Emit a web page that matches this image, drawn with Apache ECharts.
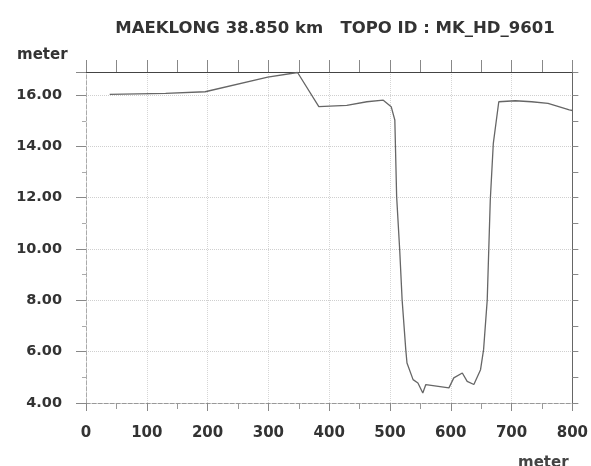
<!DOCTYPE html>
<html>
<head>
<meta charset="utf-8">
<script src="https://cdn.jsdelivr.net/npm/echarts@6/dist/echarts.min.js"></script>
<style>
html,body{margin:0;padding:0;background:#fff;}
#chart{width:591px;height:466px;}
</style>
</head>
<body>
<div id="chart"></div>
<script>
var titleText = 'MAEKLONG 38.850 km   TOPO ID : MK_HD_9601';
var distance = [39, 131, 196, 299, 348, 383, 429, 462, 489, 502, 508, 511, 516, 520, 526, 528, 538, 546, 554, 559, 597, 605, 619, 627, 638, 649, 654, 660, 665, 670, 679, 706, 733, 760, 787, 795, 800];
var elevation = [16.03, 16.07, 16.13, 16.7, 16.88, 15.55, 15.6, 15.74, 15.8, 15.55, 15.03, 12.04, 9.97, 8.02, 6.08, 5.56, 4.91, 4.78, 4.39, 4.72, 4.59, 4.98, 5.17, 4.84, 4.72, 5.3, 6.08, 8.02, 11.9, 14.12, 15.74, 15.78, 15.74, 15.68, 15.48, 15.42, 15.4];
var xMin = 0, xMax = 800, xStep = 100;
var yMin = 4, yMax = 16.9, yStep = 2;
var yName = 'meter', xName = 'meter';

var points = distance.map(function (d, i) { return [d, elevation[i]]; });
var font = 'DejaVu Sans';
var chart = echarts.init(document.getElementById('chart'), null, {renderer: 'canvas'});
chart.setOption({
  animation: false,
  backgroundColor: '#ffffff',
  title: {
    text: titleText, left: 330, top: 15, textAlign: 'center',
    textStyle: {fontFamily: font, fontSize: 16.5, fontWeight: 'bold', color: '#333'}
  },
  graphic: [
    {type: 'text', left: 17, top: 48, style: {text: yName, font: 'bold 15px DejaVu Sans', fill: '#333'}},
    {type: 'text', left: 518, top: 456, style: {text: xName, font: 'bold 15px DejaVu Sans', fill: '#444'}}
  ],
  grid: {left: 86, right: 14, top: 72, bottom: 63},
  xAxis: [{
    type: 'value', position: 'bottom', min: xMin, max: xMax, interval: xStep,
    axisLine: {show: true, lineStyle: {color: '#999', width: 1, type: 'dashed'}},
    axisTick: {show: true, inside: false, length: 8, lineStyle: {color: '#888'}},
    minorTick: {show: true, splitNumber: 2, length: 6, lineStyle: {color: '#999'}},
    axisLabel: {margin: 23, fontFamily: font, fontSize: 15, fontWeight: 'bold', color: '#333'},
    splitLine: {show: true, lineStyle: {color: '#d6d6d6', type: 'dotted'}}
  }, {
    type: 'value', position: 'top', min: xMin, max: xMax, interval: 50,
    axisLine: {show: true, onZero: false, lineStyle: {color: '#444', width: 1.2}},
    axisTick: {show: true, inside: false, length: 12, lineStyle: {color: '#888'}},
    axisLabel: {show: false}, splitLine: {show: false}
  }],
  yAxis: [{
    type: 'value', position: 'left', min: yMin, max: yMax, interval: yStep,
    axisLine: {show: true, lineStyle: {color: '#aaa', width: 1, type: 'dashed'}},
    axisTick: {show: true, inside: false, length: 10, lineStyle: {color: '#888'}},
    minorTick: {show: true, splitNumber: 2, length: 4, lineStyle: {color: '#aaa'}},
    axisLabel: {margin: 24, showMaxLabel: false, fontFamily: font, fontSize: 14.5, fontWeight: 'bold', color: '#333',
      formatter: function (v) { return v.toFixed(2); }},
    splitLine: {show: true, lineStyle: {color: '#cfcfcf', type: 'dotted'}}
  }, {
    type: 'value', position: 'right', min: yMin, max: yMax, interval: 1,
    axisLine: {show: true, onZero: false, lineStyle: {color: '#666', width: 1}},
    axisTick: {show: true, inside: false, length: 6, lineStyle: {color: '#888'}},
    axisLabel: {show: false}, splitLine: {show: false}
  }],
  series: [{
    type: 'line', xAxisIndex: 0, yAxisIndex: 0, data: points,
    showSymbol: false, smooth: false,
    lineStyle: {color: '#666', width: 1.3}
  }]
});
</script>
</body>
</html>
